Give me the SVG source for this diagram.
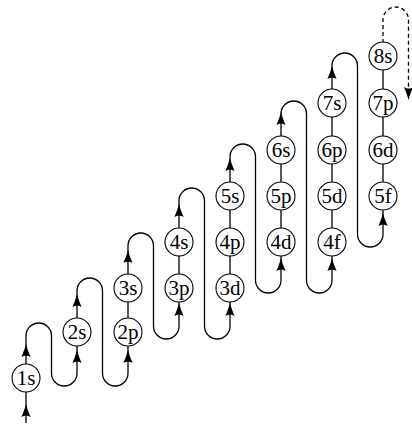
<svg xmlns="http://www.w3.org/2000/svg" xmlns:xlink="http://www.w3.org/1999/xlink" width="412" height="425" viewBox="0 0 412 425">
<style>
.ln{fill:none;stroke:#000;stroke-width:1.3}
.ds{fill:none;stroke:#000;stroke-width:1.3;stroke-dasharray:4 3}
.nd circle{fill:#fff;stroke:#000;stroke-width:1.1}
.nd text{font-family:"Liberation Serif","Times New Roman",serif;font-size:21px;text-anchor:middle;fill:#000}
.ah{fill:#000}
</style>
<defs>
<path id="ah" d="M0 0 C1 4 2.8 9 4.6 13 Q0 10 -4.6 13 C-2.8 9 -1 4 0 0 Z"/>
</defs>
<rect width="412" height="425" fill="#fff"/>
<g id="connectors">
<path class="ln" d="M26 423 V335.75 A12.75 12.75 0 0 1 51.5 335.75 V373.25 A12.75 12.75 0 0 0 77 373.25 V290.75 A12.75 12.75 0 0 1 102.5 290.75 V373.25 A12.75 12.75 0 0 0 128 373.25 V245.75 A12.75 12.75 0 0 1 153.5 245.75 V326.25 A12.75 12.75 0 0 0 179 326.25 V200.75 A12.75 12.75 0 0 1 204.5 200.75 V326.25 A12.75 12.75 0 0 0 230 326.25 V156.75 A12.75 12.75 0 0 1 255.5 156.75 V280.25 A12.75 12.75 0 0 0 281 280.25 V113.75 A12.75 12.75 0 0 1 306.5 113.75 V280.25 A12.75 12.75 0 0 0 332 280.25 V65.75 A12.75 12.75 0 0 1 357.5 65.75 V234.25 A12.75 12.75 0 0 0 383 234.25 V56"/>
<path class="ds" d="M383 43 V19.75 A12.75 12.75 0 0 1 408.5 19.75 V92"/>
<g class="ah">
<use xlink:href="#ah" transform="translate(26 404)"/>
<use xlink:href="#ah" transform="translate(26 344)"/>
<use xlink:href="#ah" transform="translate(77 350)"/>
<use xlink:href="#ah" transform="translate(77 294)"/>
<use xlink:href="#ah" transform="translate(128 350)"/>
<use xlink:href="#ah" transform="translate(128 250)"/>
<use xlink:href="#ah" transform="translate(179 303)"/>
<use xlink:href="#ah" transform="translate(179 204)"/>
<use xlink:href="#ah" transform="translate(230 303)"/>
<use xlink:href="#ah" transform="translate(230 158)"/>
<use xlink:href="#ah" transform="translate(281 258)"/>
<use xlink:href="#ah" transform="translate(281 112)"/>
<use xlink:href="#ah" transform="translate(332 258)"/>
<use xlink:href="#ah" transform="translate(332 66)"/>
<use xlink:href="#ah" transform="translate(383 213)"/>
<use xlink:href="#ah" transform="translate(408.5 100) rotate(180)"/>
</g>
</g>
<g id="n1s" class="nd"><circle cx="26" cy="378" r="14"/><text x="26" y="385">1s</text></g>
<g id="n2s" class="nd"><circle cx="77" cy="332" r="14"/><text x="77" y="339">2s</text></g>
<g id="n2p" class="nd"><circle cx="128" cy="332" r="14"/><text x="128" y="339">2p</text></g>
<g id="n3s" class="nd"><circle cx="128" cy="288" r="14"/><text x="128" y="295">3s</text></g>
<g id="n3p" class="nd"><circle cx="179" cy="288" r="14"/><text x="179" y="295">3p</text></g>
<g id="n4s" class="nd"><circle cx="179" cy="242" r="14"/><text x="179" y="249">4s</text></g>
<g id="n3d" class="nd"><circle cx="230" cy="288" r="14"/><text x="230" y="295">3d</text></g>
<g id="n4p" class="nd"><circle cx="230" cy="242" r="14"/><text x="230" y="249">4p</text></g>
<g id="n5s" class="nd"><circle cx="230" cy="196" r="14"/><text x="230" y="203">5s</text></g>
<g id="n4d" class="nd"><circle cx="281" cy="242" r="14"/><text x="281" y="249">4d</text></g>
<g id="n5p" class="nd"><circle cx="281" cy="196" r="14"/><text x="281" y="203">5p</text></g>
<g id="n6s" class="nd"><circle cx="281" cy="150" r="14"/><text x="281" y="157">6s</text></g>
<g id="n4f" class="nd"><circle cx="332" cy="242" r="14"/><text x="332" y="249">4f</text></g>
<g id="n5d" class="nd"><circle cx="332" cy="196" r="14"/><text x="332" y="203">5d</text></g>
<g id="n6p" class="nd"><circle cx="332" cy="150" r="14"/><text x="332" y="157">6p</text></g>
<g id="n7s" class="nd"><circle cx="332" cy="103" r="14"/><text x="332" y="110">7s</text></g>
<g id="n5f" class="nd"><circle cx="383" cy="196" r="14"/><text x="383" y="203">5f</text></g>
<g id="n6d" class="nd"><circle cx="383" cy="150" r="14"/><text x="383" y="157">6d</text></g>
<g id="n7p" class="nd"><circle cx="383" cy="103" r="14"/><text x="383" y="110">7p</text></g>
<g id="n8s" class="nd"><circle cx="383" cy="56" r="14"/><text x="383" y="63">8s</text></g>
</svg>
